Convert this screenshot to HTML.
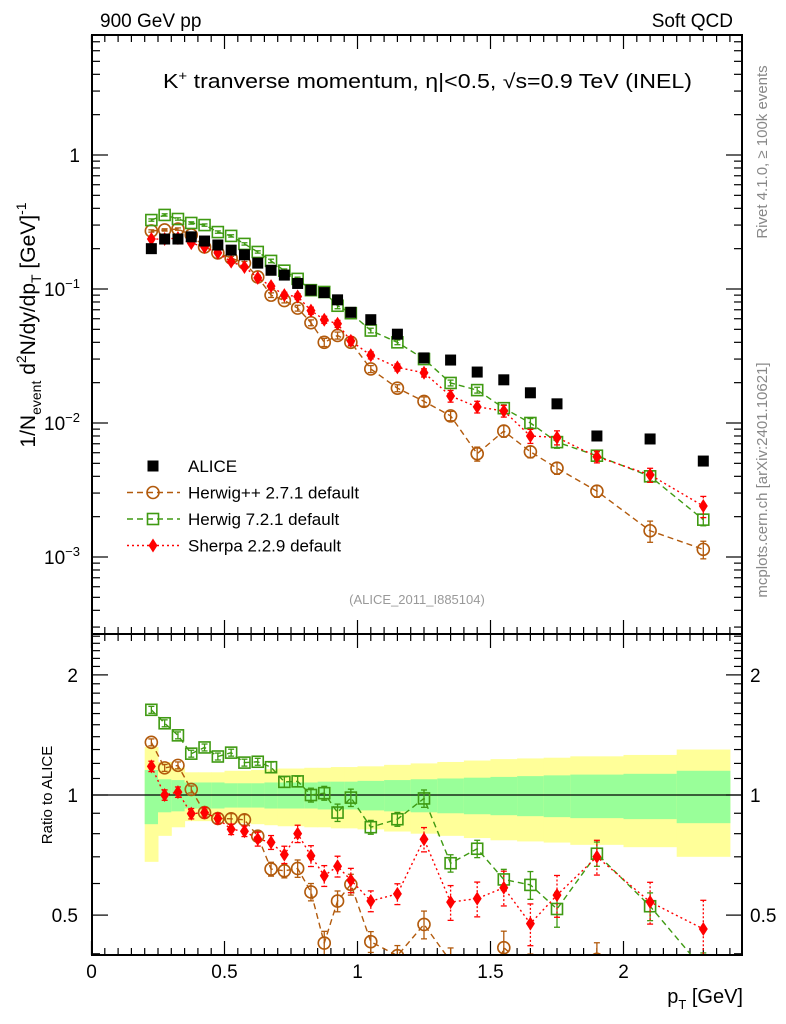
<!DOCTYPE html>
<html><head><meta charset="utf-8"><style>
html,body{margin:0;padding:0;background:#fff;overflow:hidden;width:786px;height:1024px;}
svg{display:block;font-family:"Liberation Sans","DejaVu Sans",sans-serif;}
</style></head><body>
<svg id="c" width="786" height="1024" viewBox="0 0 786 1024" xmlns="http://www.w3.org/2000/svg">
<defs>
<clipPath id="clipMain"><rect x="92" y="35" width="650" height="599"/></clipPath>
<clipPath id="clipRatio"><rect x="92" y="634" width="650" height="321"/></clipPath>
</defs>
<g id="bands" clip-path="url(#clipRatio)"></g>
<g id="ticks"></g>
<line x1="92" y1="795" x2="742" y2="795" stroke="#000" stroke-width="1.2"/>
<g id="mainMarks" clip-path="url(#clipMain)"></g>
<g id="ratioMarks" clip-path="url(#clipRatio)"></g>
<rect x="92" y="35" width="650" height="599" fill="none" stroke="#000" stroke-width="2"/>
<rect x="92" y="634" width="650" height="321" fill="none" stroke="#000" stroke-width="2"/>
<text x="100" y="27" font-size="19">900 GeV pp</text>
<text x="733" y="27" font-size="19" text-anchor="end">Soft QCD</text>
<text x="163" y="88" font-size="20" textLength="529" lengthAdjust="spacingAndGlyphs">K<tspan font-size="13" dy="-8">+</tspan><tspan dy="8"> tranverse momentum, </tspan><tspan>η</tspan>|&lt;0.5, √s=0.9 TeV (INEL)</text>
<text transform="translate(35,325) rotate(-90)" font-size="21" text-anchor="middle">1/N<tspan font-size="14" dy="6">event</tspan><tspan dy="-6"> d</tspan><tspan font-size="14" dy="-9">2</tspan><tspan dy="9">N/dy/dp</tspan><tspan font-size="14" dy="6">T</tspan><tspan dy="-6"> [GeV]</tspan><tspan font-size="14" dy="-9">-1</tspan></text>
<text transform="translate(52,795) rotate(-90)" font-size="15" text-anchor="middle">Ratio to ALICE</text>
<text x="743" y="1003" font-size="20" text-anchor="end">p<tspan font-size="13" dy="6">T</tspan><tspan dy="-6"> [GeV]</tspan></text>
<text transform="translate(767,152) rotate(-90)" font-size="15" fill="#888" text-anchor="middle">Rivet 4.1.0, ≥ 100k events</text>
<text transform="translate(767,480) rotate(-90)" font-size="15" fill="#888" text-anchor="middle">mcplots.cern.ch [arXiv:2401.10621]</text>
<text x="417" y="604" font-size="13" fill="#999" text-anchor="middle">(ALICE_2011_I885104)</text>
<g id="legend"></g>
</svg>
<script>
// ===== data =====
const binLo = [0.2,0.25,0.3,0.35,0.4,0.45,0.5,0.55,0.6,0.65,0.7,0.75,0.8,0.85,0.9,0.95,1.0,1.1,1.2,1.3,1.4,1.5,1.6,1.7,1.8,2.0,2.2];
const binHi = [0.25,0.3,0.35,0.4,0.45,0.5,0.55,0.6,0.65,0.7,0.75,0.8,0.85,0.9,0.95,1.0,1.1,1.2,1.3,1.4,1.5,1.6,1.7,1.8,2.0,2.2,2.4];
const aliceVals = [0.20,0.236,0.236,0.245,0.228,0.213,0.195,0.18,0.156,0.138,0.127,0.11,0.098,0.094,0.083,0.067,0.059,0.046,0.0306,0.0295,0.024,0.021,0.0168,0.0139,0.0080,0.0076,0.0052];
const herwigPPVals = [0.271,0.276,0.28,0.253,0.206,0.186,0.17,0.156,0.123,0.09,0.082,0.072,0.056,0.040,0.045,0.040,0.0253,0.0182,0.0145,0.0113,0.0059,0.0087,0.0061,0.0046,0.0031,0.00157,0.00114];
const herwig7Vals = [0.327,0.357,0.333,0.311,0.30,0.266,0.249,0.217,0.189,0.162,0.137,0.119,0.098,0.095,0.075,0.066,0.049,0.040,0.030,0.0199,0.0176,0.0129,0.0100,0.0072,0.0057,0.0040,0.0019];
const sherpaVals = [0.236,0.236,0.24,0.22,0.206,0.186,0.16,0.146,0.121,0.105,0.090,0.088,0.069,0.059,0.055,0.041,0.032,0.026,0.0237,0.0159,0.0132,0.0123,0.0080,0.0078,0.0056,0.0041,0.0024];
const herwigPPErr = [0.02,0.02,0.02,0.02,0.02,0.02,0.03,0.03,0.03,0.04,0.04,0.05,0.05,0.07,0.06,0.06,0.06,0.06,0.08,0.08,0.12,0.1,0.1,0.1,0.1,0.18,0.15];
const herwig7Err = [0.02,0.02,0.02,0.02,0.02,0.02,0.02,0.02,0.02,0.03,0.03,0.03,0.04,0.04,0.05,0.05,0.04,0.04,0.05,0.05,0.05,0.06,0.08,0.1,0.07,0.08,0.1];
const sherpaErr = [0.03,0.03,0.03,0.03,0.03,0.03,0.03,0.03,0.04,0.04,0.05,0.05,0.06,0.06,0.06,0.07,0.06,0.06,0.07,0.1,0.1,0.1,0.12,0.12,0.1,0.12,0.18];
const bandInner = [0.155,0.095,0.09,0.075,0.075,0.075,0.07,0.07,0.07,0.075,0.075,0.075,0.075,0.08,0.08,0.08,0.085,0.09,0.095,0.1,0.105,0.11,0.115,0.12,0.125,0.13,0.15];
const bandOuter = [0.32,0.21,0.17,0.14,0.14,0.14,0.15,0.15,0.155,0.16,0.165,0.165,0.17,0.17,0.175,0.175,0.18,0.19,0.2,0.21,0.22,0.23,0.235,0.24,0.25,0.26,0.3];
const xTickLabels = ["0","0.5","1","1.5","2"];
const xTickVals = [0,0.5,1,1.5,2];
const mainTickVals = [1,0.1,0.01,0.001];
const ratioTickVals = [2,1,0.5];
const ratioTickLabels = ["2","1","0.5"];

// ===== axes =====
const X = v => 91.5 + 266*v;
const Y = v => 155 - 134*Math.log10(v);
const R = v => 795 - 399*Math.log10(v);
const NS = "http://www.w3.org/2000/svg";
function mk(tag, attrs, parent){const e=document.createElementNS(NS,tag);for(const k in attrs)e.setAttribute(k,attrs[k]);parent.appendChild(e);return e;}
const ticks=document.getElementById('ticks');

// bands
const bands=document.getElementById('bands');
binLo.forEach((lo,i)=>{
  const hi=binHi[i];
  const y1=mk('rect',{x:X(lo),y:R(1+bandOuter[i]),width:X(hi)-X(lo)+0.5,height:R(1-bandOuter[i])-R(1+bandOuter[i]),fill:'#ffff99'},bands);
  
  
  const g1=mk('rect',{x:X(lo),y:R(1+bandInner[i]),width:X(hi)-X(lo)+0.5,height:R(1-bandInner[i])-R(1+bandInner[i]),fill:'#99ff99'},bands);
  
  
});

// x ticks
for(let k=0;k<=48;k++){
  const v=k*0.05; const x=X(v); if(x>742)break;
  const major=(k%10===0); const len=major?14:7;
  [[35,1],[634,-1],[634,1],[955,-1]].forEach(([y0,d])=>{
    mk('line',{x1:x,x2:x,y1:y0,y2:y0+d*len,stroke:'#000','stroke-width':1.2},ticks);
  });
}
xTickVals.forEach((v,i)=>{
  const t=mk('text',{x:X(v),y:978,'font-size':19,'text-anchor':'middle'},ticks);
  t.textContent=xTickLabels[i];
  
  
});
// main y ticks (log)
for(let d=-4;d<=0;d++){
  for(let m=1;m<=9;m++){
    const v=m*Math.pow(10,d); const y=Y(v); if(y<35||y>634)continue;
    const len=m===1?16:8;
    mk('line',{x1:92,x2:92+len,y1:y,y2:y,stroke:'#000','stroke-width':1.2},ticks);
    mk('line',{x1:742,x2:742-len,y1:y,y2:y,stroke:'#000','stroke-width':1.2},ticks);
  }
}
mainTickVals.forEach(v=>{
  const y=Y(v); const e=Math.round(Math.log10(v));
  const t=mk('text',{x:80,y:y+7,'font-size':19,'text-anchor':'end'},ticks);
  
  
  if(e===0){t.textContent='1';}
  else{t.textContent='10';const s=mk('tspan',{'font-size':13,dy:-8},t);s.textContent=String(e).replace('-','−');}
});
// ratio y ticks (log)
[0.4,0.5,0.6,0.7,0.8,0.9,1,1.1,1.2,1.3,1.4,1.5,1.6,1.7,1.8,1.9,2,2.1,2.2,2.3,2.4,2.5].forEach(v=>{
  const y=R(v); if(y<634||y>955)return;
  const major=(v===0.5||v===1||v===2); const len=major?16:8;
  mk('line',{x1:92,x2:92+len,y1:y,y2:y,stroke:'#000','stroke-width':1.2},ticks);
  mk('line',{x1:742,x2:742-len,y1:y,y2:y,stroke:'#000','stroke-width':1.2},ticks);
});
ratioTickVals.forEach((v,i)=>{
  const t=mk('text',{x:78,y:R(v)+7,'font-size':19,'text-anchor':'end'},ticks);
  t.textContent=ratioTickLabels[i];
  
  
  const t2=mk('text',{x:750,y:R(v)+7,'font-size':19},ticks);
  t2.textContent=ratioTickLabels[i];
  
  
});

// ===== series =====
function marker(type,color,x,y,parent){
  let e;
  if(type==='square') e=mk('rect',{x:x-5.5,y:y-5.5,width:11,height:11,fill:'#000'},parent);
  else if(type==='osquare') e=mk('rect',{x:x-5.5,y:y-5.5,width:11,height:11,fill:'none',stroke:color,'stroke-width':1.6},parent);
  else if(type==='ocircle') e=mk('circle',{cx:x,cy:y,r:6,fill:'none',stroke:color,'stroke-width':1.6},parent);
  else e=mk('path',{d:`M${x},${y-7}L${x+4.5},${y}L${x},${y+7}L${x-4.5},${y}Z`,fill:color},parent);
  return e;
}
const centers=binLo.map((lo,i)=>(lo+binHi[i])/2);
const series=[
  {name:'herwigpp',vals:herwigPPVals,err:herwigPPErr,color:'#b25a0c',type:'ocircle',dash:'6,4'},
  {name:'herwig7',vals:herwig7Vals,err:herwig7Err,color:'#3f9a12',type:'osquare',dash:'6,4'},
  {name:'sherpa',vals:sherpaVals,err:sherpaErr,color:'#ff0000',type:'diamond',dash:'2,3'}
];
const mainG=document.getElementById('mainMarks');
const ratioG=document.getElementById('ratioMarks');
series.forEach(s=>{
  const pts=centers.map((c,i)=>X(c)+','+Y(s.vals[i])).join(' ');
  const pl=mk('polyline',{points:pts,fill:'none',stroke:s.color,'stroke-width':1.4,'stroke-dasharray':s.dash},mainG);
  
  
  const rat=s.vals.map((v,i)=>v/aliceVals[i]);
  const rpts=centers.map((c,i)=>X(c)+','+R(rat[i])).join(' ');
  const rl=mk('polyline',{points:rpts,fill:'none',stroke:s.color,'stroke-width':1.4,'stroke-dasharray':s.dash},ratioG);
  
  
  centers.forEach((c,i)=>{
    const x=X(c);
    [[mainG,Y,s.vals[i]],[ratioG,R,rat[i]]].forEach(([g,F,v])=>{
      const e=s.err[i];
      const yt=F(v*(1+e)), yb=F(v*(1-e));
      mk('line',{x1:x,x2:x,y1:yt,y2:yb,stroke:s.color,'stroke-width':1.3,'stroke-dasharray':s.dash==='2,3'?'2,2':''},g);
      mk('line',{x1:x-3,x2:x+3,y1:yt,y2:yt,stroke:s.color,'stroke-width':1.3},g);
      mk('line',{x1:x-3,x2:x+3,y1:yb,y2:yb,stroke:s.color,'stroke-width':1.3},g);
      const m=marker(s.type,s.color,x,F(v),g);
      
      
    });
  });
});
centers.forEach((c,i)=>{
  const m=marker('square','#000',X(c),Y(aliceVals[i]),mainG);
  
  
});

// ===== legend =====
const leg=document.getElementById('legend');
const legendLabels=['ALICE','Herwig++ 2.7.1 default','Herwig 7.2.1 default','Sherpa 2.2.9 default'];
const legendTypes=['square','ocircle','osquare','diamond'];
const legendColors=['#000','#b25a0c','#3f9a12','#ff0000'];
const legendDash=['','6,4','6,4','2,3'];
legendLabels.forEach((lab,i)=>{
  const y=466+i*26.5;
  if(i>0){
    const l=mk('line',{x1:127,x2:180,y1:y,y2:y,stroke:legendColors[i],'stroke-width':1.4,'stroke-dasharray':legendDash[i]},leg);
    
    
  }
  const m=marker(legendTypes[i],legendColors[i],153,y,leg);
  
  
  const t=mk('text',{x:188,y:y+6,'font-size':17},leg);
  t.textContent=lab;
  
  
});
</script>
</body></html>
